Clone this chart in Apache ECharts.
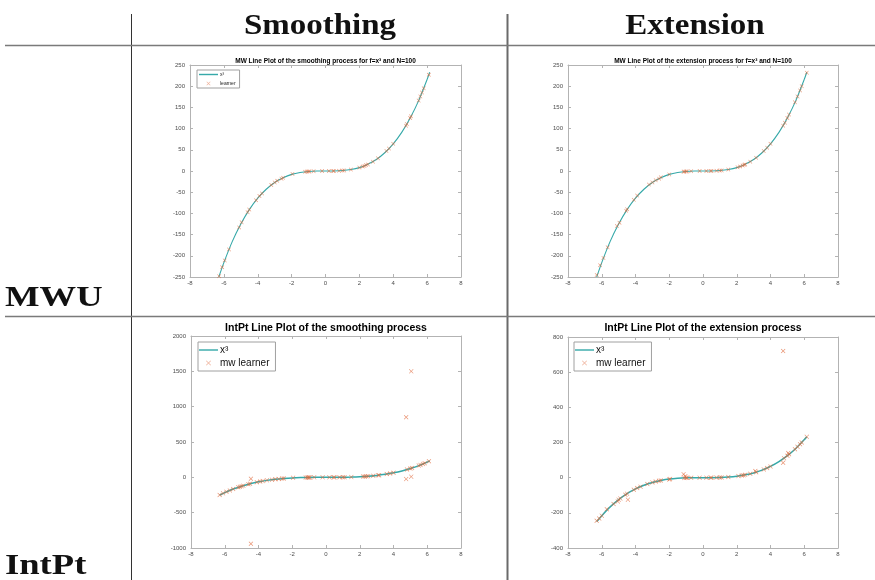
<!DOCTYPE html>
<html><head><meta charset="utf-8">
<script src="https://cdn.jsdelivr.net/npm/echarts@6/dist/echarts.min.js"></script>
<style>html,body{margin:0;padding:0;background:#fff}#c{width:875px;height:580px}</style>
</head><body><div id="c"></div>
<script>
// ---- text ----
const columnHeaders = ['Smoothing', 'Extension'];
const rowHeaders = ['MWU', 'IntPt'];
const plotTitles = [
  'MW Line Plot of the smoothing process for f=x³ and N=100',
  'MW Line Plot of the extension process for f=x³ and N=100',
  'IntPt Line Plot of the smoothing process',
  'IntPt Line Plot of the extension process'
];
const curveName = 'x³';
const learnerNames = ['learner', 'learner', 'mw learner', 'mw learner'];

// ---- axes ----
const xRange = [-8, 8, 2];
const yRanges = [[-250, 250, 50], [-250, 250, 50], [-1000, 2000, 500], [-400, 800, 200]];

// ---- reference curve x^3 ----
const curveX = [-6.3, -6, -5.5, -5, -4.5, -4, -3.5, -3, -2.5, -2, -1.5, -1, -0.5, 0, 0.5, 1, 1.5, 2, 2.5, 3, 3.5, 4, 4.5, 5, 5.5, 6, 6.15];
const curveY = [-250, -216, -166, -125, -91, -64, -43, -27, -16, -8, -3.4, -1, -0.1, 0, 0.1, 1, 3.4, 8, 16, 27, 43, 64, 91, 125, 166, 216, 233];

// ---- learner points: MW smoothing ----
const mwSmoothX = [-6.28, -6.1, -5.95, -5.7, -5.1, -4.95, -4.6, -4.5, -4.1, -3.9, -3.75, -3.2, -3.0, -2.85, -2.6, -2.5, -1.95, -1.2, -1.1, -1.0, -0.95, -0.7, -0.2, 0.2, 0.45, 0.5, 0.8, 1.0, 1.1, 1.5, 2.0, 2.2, 2.3, 2.4, 2.5, 2.8, 3.1, 3.6, 3.75, 4.0, 4.75, 4.8, 5.0, 5.05, 5.5, 5.6, 5.7, 5.8, 6.1];
const mwSmoothY = [-248, -227, -211, -185, -133, -121, -97, -91, -69, -59, -53, -33, -27, -23, -18, -16, -7, -2, -1.3, -1, -0.9, -0.3, 0, 0, 0.1, 0.1, 0.5, 1, 1.3, 3.4, 8, 10.6, 12, 14, 15.6, 22, 30, 47, 53, 64, 107, 111, 125, 129, 166, 176, 185, 195, 227];

// ---- learner points: MW extension ----
const mwExtX = [-6.3, -6.1, -5.9, -5.65, -5.1, -4.95, -4.55, -4.5, -4.1, -3.9, -3.2, -3.0, -2.8, -2.6, -2.5, -2.0, -1.15, -1.1, -1.0, -0.95, -0.7, -0.2, 0.2, 0.45, 0.5, 0.8, 1.0, 1.1, 1.5, 2.05, 2.2, 2.35, 2.45, 2.5, 2.8, 3.15, 3.6, 3.8, 4.0, 4.75, 4.85, 5.0, 5.1, 5.45, 5.6, 5.75, 5.85, 6.15];
const mwExtY = [-245, -222, -205, -180, -130, -122, -94, -90, -68, -58, -32, -27, -22, -18, -15, -8, -1.5, -1.3, -1, -0.9, -0.3, 0, 0, 0.1, 0.1, 0.5, 1, 1.3, 3.4, 8.6, 10.6, 13, 14.7, 15.6, 22, 31, 47, 55, 64, 107, 114, 125, 133, 162, 176, 190, 200, 232];

// ---- learner points: IntPt smoothing ----
const ipSmoothX = [-6.3, -6.1, -5.9, -5.7, -5.5, -5.2, -5.1, -5.0, -4.9, -4.6, -4.5, -4.45, -4.45, -4.1, -3.9, -3.75, -3.5, -3.2, -3.0, -2.8, -2.6, -2.5, -1.95, -1.2, -1.1, -1.05, -1.0, -0.95, -0.7, -0.2, 0.2, 0.45, 0.5, 0.8, 1.0, 1.1, 1.5, 2.2, 2.3, 2.4, 2.5, 2.8, 3.1, 3.15, 3.6, 3.8, 4.0, 4.75, 4.75, 4.8, 5.0, 5.05, 5.05, 5.1, 5.5, 5.6, 5.75, 5.85, 6.1];
const ipSmoothY = [-250, -227, -205, -185, -166, -141, -133, -125, -118, -97, -91, -20, -940, -69, -59, -53, -43, -33, -27, -22, -18, -16, -7, -2, -1, -1, -1, -1, 0, 0, 0, 0, 0, 0.5, 1, 1.3, 3, 11, 12, 14, 16, 22, 30, 31, 47, 55, 64, 850, -25, 111, 125, 1500, 10, 133, 166, 176, 190, 200, 227];

// ---- learner points: IntPt extension ----
const ipExtX = [-6.3, -6.15, -6.0, -5.7, -5.3, -5.05, -5.0, -4.9, -4.6, -4.5, -4.45, -4.1, -3.9, -3.7, -3.3, -3.0, -2.8, -2.6, -2.5, -2.0, -1.95, -1.15, -1.1, -1.05, -1.0, -0.95, -0.7, -0.2, 0.2, 0.45, 0.5, 0.8, 1.0, 1.1, 1.5, 2.1, 2.3, 2.4, 2.5, 2.8, 3.1, 3.15, 3.6, 3.8, 4.0, 4.75, 4.75, 4.8, 5.0, 5.05, 5.1, 5.45, 5.6, 5.75, 5.85, 6.15];
const ipExtY = [-245, -232, -216, -180, -150, -135, -125, -118, -97, -91, -125, -69, -59, -51, -36, -27, -22, -18, -16, -10, -7, 20, -1.3, 8, -1, -0.9, -0.3, 0, 0, 0.1, 0.1, 0.5, 1, 1.3, 3.4, 9, 12, 14, 16, 22, 38, 31, 47, 55, 64, 720, 85, 111, 125, 140, 133, 162, 176, 190, 200, 232];

const learnerX = [mwSmoothX, mwExtX, ipSmoothX, ipExtX];
const learnerY = [mwSmoothY, mwExtY, ipSmoothY, ipExtY];

// ---- layout / style ----
const grids = [
  {left: 190, top: 65, width: 271, height: 212},
  {left: 568, top: 65, width: 270, height: 212},
  {left: 191, top: 336, width: 270, height: 212},
  {left: 568, top: 337, width: 270, height: 211}
];
const lineColor = '#36a9a9';
const markColor = '#e06a3c';
const boxColor = '#b3b3b3';
const labelColor = '#4d4d4d';
const xMark = 'path://M0,1L1,0L5,4L9,0L10,1L6,5L10,9L9,10L5,6L1,10L0,9L4,5Z';
const lineIcon = 'path://M0,0L40,0L40,3L0,3Z';

const xAxes = [], yAxes = [], series = [];
grids.forEach((g, i) => {
  const yr = yRanges[i];
  const base = {
    type: 'value', gridIndex: i, splitLine: {show: false},
    axisLine: {show: true, onZero: false, lineStyle: {color: boxColor, width: 1}},
    axisTick: {show: true, inside: true, length: 3, lineStyle: {color: boxColor}}
  };
  const lbl = {color: labelColor, fontSize: 6, fontFamily: 'Liberation Sans', formatter: v => String(v)};
  xAxes.push(Object.assign({}, base, {position: 'bottom', min: xRange[0], max: xRange[1], interval: xRange[2], axisLabel: Object.assign({margin: 3}, lbl)}));
  xAxes.push(Object.assign({}, base, {position: 'top', min: xRange[0], max: xRange[1], interval: xRange[2], axisLabel: {show: false}}));
  yAxes.push(Object.assign({}, base, {position: 'left', min: yr[0], max: yr[1], interval: yr[2], axisLabel: Object.assign({margin: 5}, lbl)}));
  yAxes.push(Object.assign({}, base, {position: 'right', min: yr[0], max: yr[1], interval: yr[2], axisLabel: {show: false}}));
  const big = i >= 2;
  series.push({
    type: 'line', name: curveName, xAxisIndex: 2 * i, yAxisIndex: 2 * i,
    data: curveX.map((x, k) => [x, curveY[k]]), symbol: 'none', smooth: 0.25,
    lineStyle: {color: lineColor, width: big ? 1.5 : 1.1}, itemStyle: {color: lineColor}, z: 2, silent: true
  });
  series.push({
    type: 'scatter', name: learnerNames[i], xAxisIndex: 2 * i, yAxisIndex: 2 * i,
    data: learnerX[i].map((x, k) => [x, learnerY[i][k]]), symbol: xMark, symbolSize: big ? 4.5 : 4,
    itemStyle: {color: markColor, opacity: 0.75}, z: 3, silent: true
  });
});

const legendBase = {orient: 'vertical', borderColor: '#a0a0a0', borderWidth: 1, backgroundColor: '#fff', selectedMode: false, align: 'left'};
const legends = [
  Object.assign({}, legendBase, {left: 197, top: 70, data: [{name: curveName, icon: lineIcon}, {name: learnerNames[0], icon: xMark, itemStyle: {opacity: 0.5}}], itemWidth: 19, itemHeight: 4, itemGap: 4, padding: [2, 4, 2, 2],
    textStyle: {fontSize: 5, color: '#222', fontFamily: 'Liberation Sans', padding: [0, 0, 0, -3]}}),
  Object.assign({}, legendBase, {left: 198, top: 342, data: [{name: curveName, icon: lineIcon}, {name: learnerNames[2], icon: xMark, itemStyle: {opacity: 0.5}}], itemWidth: 19, itemHeight: 5, itemGap: 3, padding: [3, 6, 3, 1],
    textStyle: {fontSize: 10, color: '#111', fontFamily: 'Liberation Sans', padding: [0, 0, 0, -3]}}),
  Object.assign({}, legendBase, {left: 574, top: 342, data: [{name: curveName, icon: lineIcon}, {name: learnerNames[3], icon: xMark, itemStyle: {opacity: 0.5}}], itemWidth: 19, itemHeight: 5, itemGap: 3, padding: [3, 6, 3, 1],
    textStyle: {fontSize: 10, color: '#111', fontFamily: 'Liberation Sans', padding: [0, 0, 0, -3]}})
];

// ---- table & texts ----
const graphic = [];
function hline(y, x1, x2, color, w) { graphic.push({type: 'line', shape: {x1, y1: y, x2, y2: y}, style: {stroke: color, lineWidth: w}, silent: true}); }
function vline(x, y1, y2, color, w) { graphic.push({type: 'line', shape: {x1: x, y1, x2: x, y2}, style: {stroke: color, lineWidth: w}, silent: true}); }
vline(131.5, 14, 580, '#333', 1);
vline(507.5, 14, 580, '#6a6a6a', 2);
hline(45.5, 5, 875, '#7a7a7a', 1.5);
hline(316.5, 5, 875, '#7a7a7a', 1.5);

const serif = "'Liberation Serif', 'DejaVu Serif', serif";
[320, 695].forEach((cx, i) => graphic.push({type: 'text', x: cx, y: 26, scaleX: 1.1,
  style: {text: columnHeaders[i], font: 'bold 30px ' + serif, fill: '#111', textAlign: 'center', textVerticalAlign: 'middle'}, silent: true}));
[298, 566].forEach((cy, i) => graphic.push({type: 'text', x: 5, y: cy, scaleX: 1.22,
  style: {text: rowHeaders[i], font: 'bold 30px ' + serif, fill: '#111', textAlign: 'left', textVerticalAlign: 'middle'}, silent: true}));
grids.forEach((g, i) => {
  const big = i >= 2;
  graphic.push({type: 'text', x: g.left + g.width / 2, y: big ? 328 : 61,
    style: {text: plotTitles[i], font: (big ? 'bold 10.5px ' : 'bold 6.5px ') + "'Liberation Sans', Arial, sans-serif", fill: '#000', textAlign: 'center', textVerticalAlign: 'middle'}, silent: true});
});

const chart = echarts.init(document.getElementById('c'), null, {renderer: 'canvas'});
chart.setOption({
  animation: false,
  backgroundColor: '#fff',
  grid: grids.map(g => Object.assign({show: false, containLabel: false}, g)),
  xAxis: xAxes, yAxis: yAxes, series, legend: legends, graphic
});
</script></body></html>
